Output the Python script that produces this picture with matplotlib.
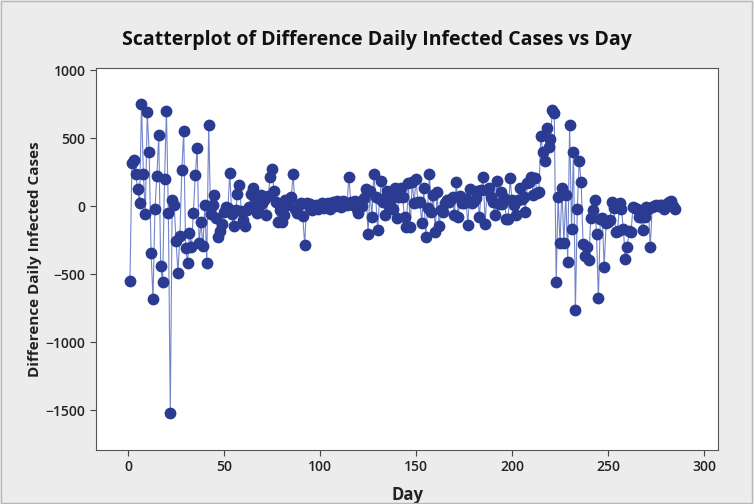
import matplotlib
matplotlib.use("Agg")
import matplotlib.pyplot as plt
from matplotlib.patches import Rectangle
import numpy as np

plt.rcParams['font.family'] = ['Open Sans', 'DejaVu Sans']

# daily difference of infected cases (day 1 .. 285)
diff_1_60 = [-551, 314, 338, 233, 127, 20, 750, 233, -57, 691,
             395, -343, -686, -24, 223, 522, -439, -561, 196, 701,
             -54, -1520, 44, 10, -255, -490, -218, 262, 549, -311,
             -417, -196, -304, -54, 226, 424, -275, -120, -294, 5,
             -417, 598, -61, 5, 79, -90, -225, -180, -132, -42,
             -10, -17, 245, -60, -147, -29, 86, 157, -37, -100]
diff_61_120 = [-147, -29, -5, 88, 130, 60, -49, 0, 81, 20,
               44, -64, 74, 211, 272, 110, 32, -115, -29, -115,
               -66, 44, 10, 49, 64, 235, -20, -54, 7, 24,
               -74, -287, 24, 0, 15, -30, -10, 5, -25, 10,
               20, -15, 0, 25, -20, 10, 30, 0, 40, 15,
               -10, 35, 20, 5, 215, 30, 10, 40, -20, -54]
diff_121_180 = [15, 0, 60, 123, -206, 113, -83, 235, 64, -176,
                50, 186, 32, -66, 113, 0, 49, -24, 130, -90,
                69, 130, 64, -83, -157, 171, -157, 179, 24, 196,
                30, 32, -123, 130, -225, -17, 235, -42, 81, -189,
                100, -147, -29, -42, 24, 44, 30, 55, 69, -66,
                179, -83, 74, 24, 20, 50, -140, 123, 20, 34]
diff_181_240 = [60, 113, -78, 118, 215, -132, 118, 130, 69, 30,
                -66, 186, 15, 105, 15, 60, -98, -98, 204, 44,
                10, -66, 47, 130, 50, 64, -42, 171, 179, 211,
                81, 204, 93, 105, 515, 400, 331, 571, 431, 490,
                706, 682, -561, 69, -275, 130, -270, 81, -410, 598,
                -169, 397, -765, -24, 333, 176, -279, -368, -304, -397]
diff_241_285 = [-90, -29, 44, -206, -679, -98, -90, -446, -123, -115,
                -100, 32, -17, -189, -180, 20, -24, -171, -392, -304,
                -184, -189, -5, -17, -20, -83, -83, -176, -83, -10,
                -20, -304, -10, 0, 5, 0, 10, 7, -24, 10,
                20, 32, 39, 0, -24]

values = np.array(diff_1_60 + diff_61_120 + diff_121_180 + diff_181_240 + diff_241_285)
days = np.arange(1, len(values) + 1)

x_ticks = [0, 50, 100, 150, 200, 250, 300]
y_ticks = [-1500, -1000, -500, 0, 500, 1000]

fig = plt.figure(figsize=(7.54, 5.04), dpi=100, facecolor='#ececec')
ax = fig.add_axes([0.1273, 0.107, 0.825, 0.758])
ax.set_facecolor('white')

# thin outer border like the Minitab graph region
fig.patches.append(Rectangle((0.001, 0.001), 0.997, 0.997, transform=fig.transFigure,
                             fill=False, edgecolor='#b8b8b8', linewidth=1))

ax.plot(days, values, color='#7285cc', linewidth=0.8, zorder=1)
ax.scatter(days, values, s=56, color='#2a3b91', edgecolors='#2a3b91', zorder=2)

ax.set_xlim(-16.7, 307.3)
ax.set_ylim(-1794, 1015)
ax.set_xticks(x_ticks)
ax.set_yticks(y_ticks)
ax.tick_params(axis='both', labelsize=10, color='#444444', length=4, labelcolor='#222222')
for lbl in ax.get_xticklabels() + ax.get_yticklabels():
    lbl.set_fontweight('semibold')

for sp in ax.spines.values():
    sp.set_color('#555555')
    sp.set_linewidth(0.8)

ax.set_xlabel('Day', fontsize=12, fontweight='bold', color='#222222', labelpad=8)
ax.set_ylabel('Difference Daily Infected Cases', fontsize=11, fontweight='bold',
              color='#222222', labelpad=3)
fig.text(0.5, 0.921, 'Scatterplot of Difference Daily Infected Cases vs Day',
         ha='center', va='center', fontsize=14, fontweight='bold', color='#111111')

fig.savefig('out.png', dpi=100, facecolor=fig.get_facecolor())
